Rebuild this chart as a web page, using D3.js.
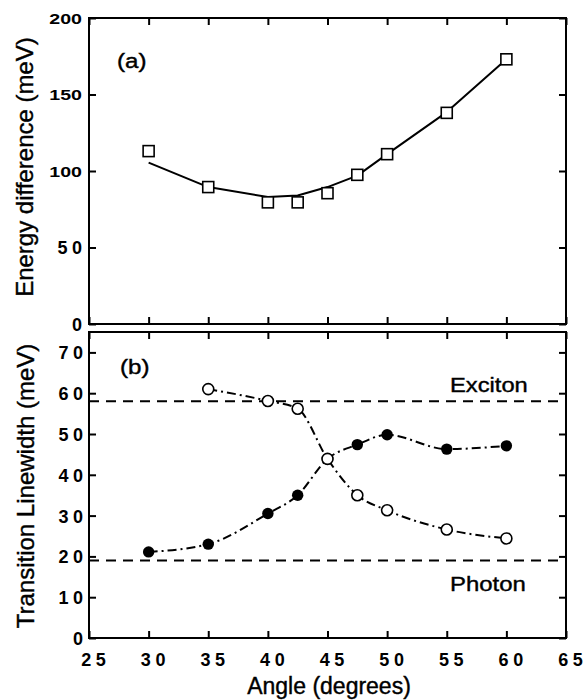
<!DOCTYPE html>
<html><head><meta charset="utf-8">
<script src="https://cdn.jsdelivr.net/npm/d3@7"></script>
<style>
body{margin:0;background:#fff}
svg{display:block}
text{font-family:"Liberation Sans",Arial,Helvetica,sans-serif;fill:#000}
</style>
</head><body>
<svg id="c" width="585" height="700"></svg>
<script>
// ---- data ----
const angles = [30, 35, 40, 42.5, 45, 47.5, 50, 55, 60];
const energyDiff = [113, 89.5, 79.5, 79.5, 85.5, 97.5, 111, 138, 173];
const energyFit = [105.5, 89.5, 83, 84, 89.5, 97, 111, 138.5, 173];
const openAngles = [35, 40, 42.5, 45, 47.5, 50, 55, 60];
const openWidth = [61, 58.1, 56.2, 43.9, 35, 31.3, 26.6, 24.4];
const filledAngles = [30, 35, 40, 42.5, 45, 47.5, 50, 55, 60];
const filledWidth = [21.1, 23, 30.5, 35, 43.9, 47.4, 49.8, 46.3, 47.1];
const excitonLevel = 58;
const photonLevel = 19;
const xTicks = [25, 30, 35, 40, 45, 50, 55, 60, 65];
const yTopTicks = [0, 50, 100, 150, 200];
const yBotTicks = [0, 10, 20, 30, 40, 50, 60, 70];
const labels = {a: "(a)", b: "(b)", exciton: "Exciton", photon: "Photon",
  yTop: "Energy difference (meV)", yBot: "Transition Linewidth (meV)", x: "Angle (degrees)"};

// ---- layout ----
const L = 89, R = 566, T1 = 18, B1 = 324, T2 = 332, B2 = 638;
const svg = d3.select("#c");
const x = d3.scaleLinear([25, 65], [L, R]);
const yTop = d3.scaleLinear([0, 200], [B1, T1]);
const yBot = d3.scaleLinear([0, 75], [B2, T2]);

function styleTicks(g) {
  g.select(".domain").remove();
  g.selectAll(".tick line").attr("stroke", "#000").attr("stroke-width", 2);
}

// spaced digits as separate tspans (no trailing spacing)
function spaced(t, s, gap) {
  t.text(null);
  s.split("").forEach((ch, i) => {
    t.append("tspan").attr("dx", i ? gap : null).text(ch);
  });
}

function numLabel(sel, pad, side) {
  sel.each(function() {
    const t = d3.select(this);
    const s = t.text();
    t.attr("dy", null).style("font-weight", "bold").attr("fill", "#000");
    if (side === "left") {
      if (s.length === 3) {
        t.style("font-size", "14px").attr("text-anchor", "end")
         .attr("transform", "scale(1.4,1)").attr("x", -pad / 1.4).attr("y", 5);
      } else {
        t.style("font-size", "18px").attr("text-anchor", "end")
         .attr("x", -pad).attr("y", 6.4);
        spaced(t, s, 4.5);
      }
    } else {
      t.style("font-size", "18px").attr("text-anchor", "middle")
       .attr("x", 4).attr("y", 28);
      spaced(t, s, 4.5);
    }
  });
}

function panel(y, ticks, top, bottom, showX, labelPad) {
  const g = svg.append("g");
  const gb = g.append("g").attr("transform", `translate(0,${bottom})`)
    .call(d3.axisBottom(x).tickValues(xTicks).tickSize(-7).tickPadding(0)
      .tickFormat(showX ? d3.format("d") : ""));
  styleTicks(gb);
  if (showX) numLabel(gb.selectAll("text"), 0, "bottom");
  const gt = g.append("g").attr("transform", `translate(0,${top})`)
    .call(d3.axisTop(x).tickValues(xTicks).tickSize(-7).tickFormat(""));
  styleTicks(gt);
  const gl = g.append("g").attr("transform", `translate(${L},0)`)
    .call(d3.axisLeft(y).tickValues(ticks).tickSize(-7).tickFormat(d3.format("d")));
  styleTicks(gl);
  numLabel(gl.selectAll("text"), labelPad, "left");
  const gr = g.append("g").attr("transform", `translate(${R},0)`)
    .call(d3.axisRight(y).tickValues(ticks).tickSize(-7).tickFormat(""));
  styleTicks(gr);
  g.append("rect").attr("x", L).attr("y", top).attr("width", R - L).attr("height", bottom - top)
    .attr("fill", "none").attr("stroke", "#000").attr("stroke-width", 2);
  return g;
}

panel(yTop, yTopTicks, T1, B1, false, 7);
panel(yBot, yBotTicks, T2, B2, true, 6);

// ---- panel (a) ----
const fitLine = d3.line().x(d => x(d[0])).y(d => yTop(d[1])).curve(d3.curveLinear);
svg.append("path").datum(d3.zip(angles, energyFit)).attr("d", fitLine)
  .attr("fill", "none").attr("stroke", "#000").attr("stroke-width", 2).attr("stroke-linejoin", "round");
svg.append("g").selectAll("rect").data(d3.zip(angles, energyDiff)).join("rect")
  .attr("x", d => x(d[0]) - 5.5).attr("y", d => yTop(d[1]) - 5.5)
  .attr("width", 11).attr("height", 11)
  .attr("fill", "#fff").attr("stroke", "#000").attr("stroke-width", 1.6);

// ---- panel (b) ----
[excitonLevel, photonLevel].forEach(v => {
  svg.append("line").attr("x1", L).attr("x2", R).attr("y1", yBot(v)).attr("y2", yBot(v))
    .attr("stroke", "#000").attr("stroke-width", 2).attr("stroke-dasharray", "10,7");
});
const wLine = d3.line().x(d => x(d[0])).y(d => yBot(d[1])).curve(d3.curveMonotoneX);
svg.append("path").datum(d3.zip(filledAngles, filledWidth)).attr("d", wLine)
  .attr("fill", "none").attr("stroke", "#000").attr("stroke-width", 2).attr("stroke-dasharray", "9,4,2,4");
svg.append("path").datum(d3.zip(openAngles, openWidth)).attr("d", wLine)
  .attr("fill", "none").attr("stroke", "#000").attr("stroke-width", 2).attr("stroke-dasharray", "9,4,2,4");
svg.append("g").selectAll("circle").data(d3.zip(filledAngles, filledWidth)).join("circle")
  .attr("cx", d => x(d[0])).attr("cy", d => yBot(d[1])).attr("r", 5.7).attr("fill", "#000");
svg.append("g").selectAll("circle").data(d3.zip(openAngles, openWidth)).join("circle")
  .attr("cx", d => x(d[0])).attr("cy", d => yBot(d[1])).attr("r", 5.5)
  .attr("fill", "#fff").attr("stroke", "#000").attr("stroke-width", 1.6);

// ---- texts ----
function stxt(str, px, py, size, sx) {
  svg.append("text").attr("transform", `translate(${px},${py}) scale(${sx},1)`)
    .style("font-size", size + "px").attr("stroke", "#000").attr("stroke-width", 0.4).text(str);
}
stxt(labels.a, 117, 68, 21, 1.15);
stxt(labels.b, 120, 374, 21, 1.15);
stxt(labels.exciton, 450, 392, 21, 1.13);
stxt(labels.photon, 450, 591, 21, 1.14);

svg.append("text").attr("transform", "translate(32.5,167) rotate(-90)")
  .attr("text-anchor", "middle").style("font-size", "24px")
  .attr("stroke", "#000").attr("stroke-width", 0.4).text(labels.yTop);
svg.append("text").attr("transform", "translate(33.5,486) rotate(-90)")
  .attr("text-anchor", "middle").style("font-size", "24px")
  .attr("stroke", "#000").attr("stroke-width", 0.4).text(labels.yBot);
svg.append("text").attr("x", 329).attr("y", 694)
  .attr("text-anchor", "middle").style("font-size", "23px")
  .attr("stroke", "#000").attr("stroke-width", 0.4).text(labels.x);
</script>
</body></html>
